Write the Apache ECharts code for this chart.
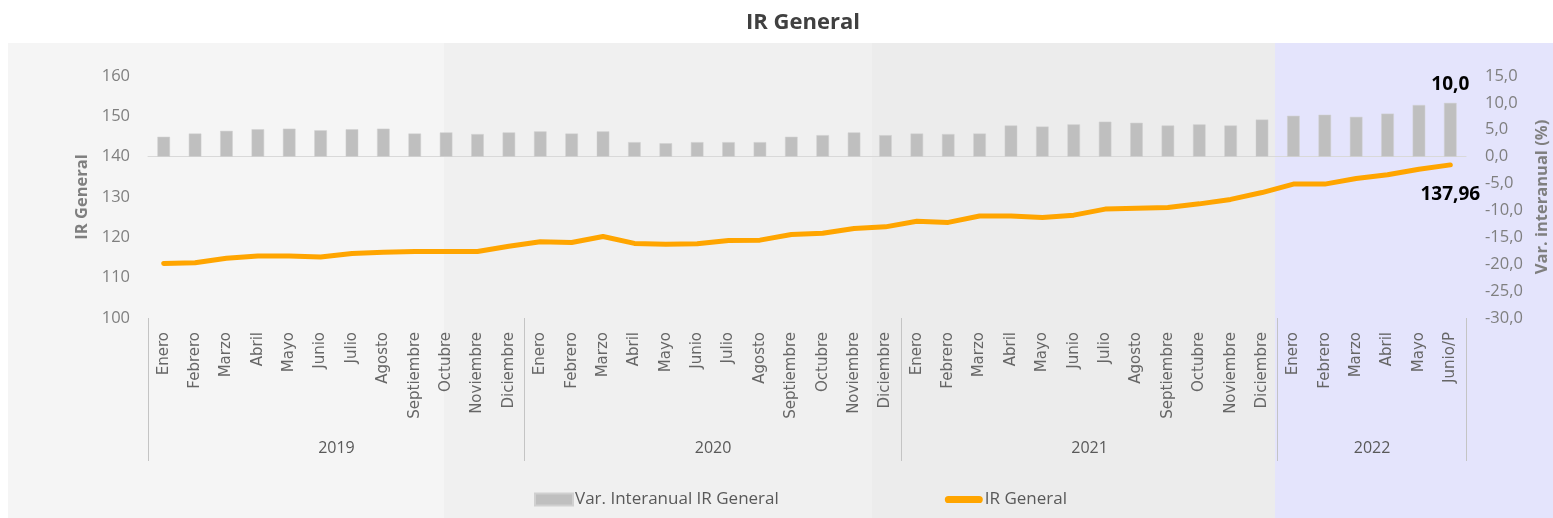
<!DOCTYPE html>
<html>
<head>
<meta charset="utf-8">
<script src="https://cdn.jsdelivr.net/npm/echarts@6/dist/echarts.min.js"></script>
<style>
html,body{margin:0;padding:0;background:#fff;overflow:hidden;width:1553px;height:518px;}
#chart{width:1553px;height:518px;display:block;}
</style>
</head>
<body>
<div id="chart"></div>
<script>
var monthNames = ['Enero','Febrero','Marzo','Abril','Mayo','Junio','Julio','Agosto','Septiembre','Octubre','Noviembre','Diciembre'];
var years = ['2019','2020','2021','2022'];
var monthsPerYear = [12, 12, 12, 6];
var lastMonthLabel = 'Junio/P';

var varInteranual = [
  3.7, 4.3, 4.8, 5.1, 5.2, 4.9, 5.1, 5.2, 4.3, 4.5, 4.2, 4.5,
  4.7, 4.3, 4.7, 2.7, 2.5, 2.7, 2.7, 2.7, 3.7, 4.0, 4.5, 4.0,
  4.3, 4.2, 4.3, 5.8, 5.6, 6.0, 6.5, 6.3, 5.8, 6.0, 5.8, 6.9,
  7.6, 7.8, 7.4, 8.0, 9.6, 10.0
];
var irGeneral = [
  113.5, 113.7, 114.8, 115.4, 115.4, 115.1, 116.0, 116.3, 116.5, 116.5, 116.5, 117.8,
  118.9, 118.7, 120.2, 118.5, 118.3, 118.4, 119.2, 119.3, 120.7, 121.0, 122.2, 122.6,
  124.0, 123.7, 125.3, 125.3, 124.9, 125.5, 127.0, 127.2, 127.4, 128.3, 129.4, 131.1,
  133.2, 133.2, 134.6, 135.5, 136.9, 137.96
];
var leftTicks = {min: 100, max: 160, interval: 10};
var rightTicks = {min: -30, max: 15, interval: 5};

// build category lists
var months = [], yearOfMonth = [], yearStarts = [], yearCenters = [];
var idx = 0;
years.forEach(function (y, i) {
  yearStarts.push(idx);
  yearCenters.push(idx + Math.floor(monthsPerYear[i] / 2));
  for (var m = 0; m < monthsPerYear[i]; m++) {
    months.push(monthNames[m]);
    yearOfMonth.push(y);
    idx++;
  }
});
months[months.length - 1] = lastMonthLabel;
var lastIdx = months.length - 1;

var FONT = "'Open Sans', 'Noto Sans', sans-serif";
var MFONT = "'DejaVu Sans', 'Open Sans', sans-serif";
var fmt1 = function (v) { return Number(v).toFixed(1).replace('.', ','); };
var fmt2 = function (v) { return Number(v).toFixed(2).replace('.', ','); };

var barData = varInteranual.map(function (v, i) {
  if (i === lastIdx) {
    return {value: v, label: {show: true, position: 'top', distance: 9, formatter: function (p) { return fmt1(p.value); },
      color: '#000', fontWeight: 'bold', fontSize: 19, fontFamily: FONT}};
  }
  return v;
});
var lineData = irGeneral.map(function (v, i) {
  if (i === lastIdx) {
    return {value: v, label: {show: true, position: 'bottom', distance: 20, formatter: function (p) { return fmt2(p.value); },
      color: '#000', fontWeight: 'bold', fontSize: 19, fontFamily: FONT}};
  }
  return v;
});

var chart = echarts.init(document.getElementById('chart'), null, {renderer: 'canvas', width: 1553, height: 518});
var option = {
  backgroundColor: '#ffffff',
  animation: false,
  graphic: [
    {type: 'rect', silent: true, z: -10, shape: {x: 8, y: 43, width: 436, height: 475}, style: {fill: '#f5f5f5'}},
    {type: 'rect', silent: true, z: -10, shape: {x: 444, y: 43, width: 428, height: 475}, style: {fill: '#f0f0f0'}},
    {type: 'rect', silent: true, z: -10, shape: {x: 872, y: 43, width: 403, height: 475}, style: {fill: '#ececec'}},
    {type: 'rect', silent: true, z: -10, shape: {x: 1275, y: 43, width: 278, height: 475}, style: {fill: '#e4e4fc'}}
  ],
  title: {
    text: 'IR General',
    left: 741, top: 7,
    textStyle: {fontFamily: FONT, fontSize: 22, fontWeight: 'bold', color: '#404040'}
  },
  legend: {
    left: 534, top: 491, padding: 0,
    itemWidth: 38, itemHeight: 12, itemGap: 166,
    textStyle: {fontFamily: FONT, fontSize: 17, color: '#595959', padding: [0, 0, 0, -3]},
    data: [
      {name: 'Var. Interanual IR General', icon: 'rect'},
      {name: 'IR General', icon: 'path://M4,0 L38,0 A4,4 0 0 1 38,8 L4,8 A4,4 0 0 1 4,0 Z'}
    ]
  },
  grid: {left: 148, right: 87, top: 76, bottom: 200, containLabel: false, outerBoundsMode: 'none'},
  xAxis: [
    {
      type: 'category', data: months, position: 'bottom', boundaryGap: true,
      axisLine: {show: true, lineStyle: {color: '#d9d9d9', width: 1}},
      axisTick: {show: false},
      axisLabel: {interval: 0, rotate: 90, margin: 14, fontFamily: MFONT, fontSize: 15, color: '#666666'},
      splitLine: {show: false}
    },
    {
      type: 'category', data: yearOfMonth, position: 'bottom', offset: 0, boundaryGap: true,
      axisLine: {show: false},
      axisTick: {show: true, length: 143, lineStyle: {color: '#c4c4c4', width: 1},
        interval: function (i) { return yearStarts.indexOf(i) >= 0; }},
      axisLabel: {margin: 122, fontFamily: FONT, fontSize: 16, color: '#595959',
        padding: [0, 31, 0, 0],
        interval: function (i) { return yearCenters.indexOf(i) >= 0; }},
      splitLine: {show: false}
    }
  ],
  yAxis: [
    {
      type: 'value', position: 'left', min: leftTicks.min, max: leftTicks.max, interval: leftTicks.interval,
      name: 'IR General', nameLocation: 'middle', nameGap: 54,
      nameTextStyle: {fontFamily: FONT, fontSize: 16.5, fontWeight: 'bold', color: '#7f7f7f'},
      axisLine: {show: false}, axisTick: {show: false}, splitLine: {show: false},
      axisLabel: {margin: 18, fontFamily: FONT, fontSize: 16.5, color: '#7f7f7f'}
    },
    {
      type: 'value', position: 'right', min: rightTicks.min, max: rightTicks.max, interval: rightTicks.interval,
      name: 'Var. interanual (%)', nameLocation: 'middle', nameGap: 68,
      nameTextStyle: {fontFamily: FONT, fontSize: 16.5, fontWeight: 'bold', color: '#7f7f7f'},
      axisLine: {show: false}, axisTick: {show: false}, splitLine: {show: false},
      axisLabel: {margin: 19, fontFamily: FONT, fontSize: 16.5, color: '#7f7f7f', formatter: fmt1}
    }
  ],
  series: [
    {
      name: 'Var. Interanual IR General', type: 'bar', xAxisIndex: 0, yAxisIndex: 1,
      data: barData, barWidth: '40%',
      itemStyle: {color: '#bfbfbf', borderColor: '#d0d0d0', borderWidth: 0.5}
    },
    {
      name: 'IR General', type: 'line', xAxisIndex: 0, yAxisIndex: 0,
      data: lineData, symbol: 'circle', symbolSize: 1, showSymbol: true, smooth: false,
      lineStyle: {color: '#ffa500', width: 5, cap: 'round', join: 'round'},
      itemStyle: {color: '#ffa500'}
    }
  ]
};
chart.setOption(option);
</script>
</body>
</html>
